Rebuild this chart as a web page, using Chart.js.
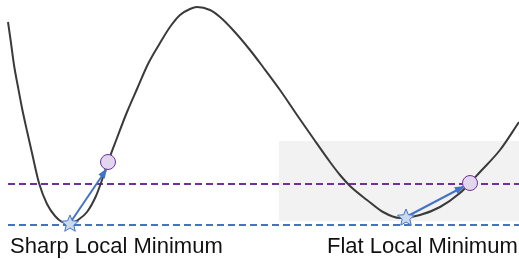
<!DOCTYPE html>
<html>
<head>
<meta charset="utf-8">
<style>
  html, body { margin: 0; padding: 0; background: #fff; }
  #wrap { width: 519px; height: 259px; }
</style>
<script src="https://cdn.jsdelivr.net/npm/chart.js@4/dist/chart.umd.min.js"></script>
</head>
<body>
<div id="wrap"><canvas id="chart" width="519" height="259"></canvas></div>
<script>
// loss curve (x right, y down)
const curveX = [8, 11, 14, 18, 22, 27, 32, 39, 47, 55, 62, 70, 78, 87, 96, 102, 108, 117, 127, 137, 148, 160, 170, 180, 190, 197, 210, 220, 233, 250, 263, 280, 297, 313, 330, 340, 350, 367, 383, 400, 420, 440, 460, 470, 480, 500, 519];
const curveY = [22, 43, 65, 87, 108, 131, 153, 183, 204, 216, 222, 224, 220, 212, 196, 180, 162, 138, 112, 89, 64, 43, 27, 15, 9, 7, 10, 17, 30, 50, 67, 90, 115, 138, 162, 175, 186, 200, 212, 218, 215, 207, 193, 183, 172, 150, 122];

// horizontal reference levels
const levelStartX = 8;
const levelEndX = 519;
const perturbedLevel = 184;
const minimumLevel = 225;

// shaded flat region
const regionX = [279, 519];
const regionTop = 141;
const regionBottom = 221;

// minima (stars) and perturbed points (circles)
const minimaX = [70, 406];
const minimaY = [223, 217];
const probeX = [108, 470];
const probeY = [162, 183];
const arrowTipX = [106, 463];
const arrowTipY = [170, 187];

const captions = ['Sharp Local Minimum', 'Flat Local Minimum'];
const captionX = [10, 327];
const captionY = 253;

const toPoints = (xs, ys) => xs.map((x, i) => ({ x: x, y: ys[i] }));

function makeStar(outer, inner, fill, stroke) {
  const size = Math.ceil(outer * 2 + 4);
  const c = document.createElement('canvas');
  c.width = size;
  c.height = size;
  const g = c.getContext('2d');
  const cx = size / 2, cy = size / 2 + 1;
  g.beginPath();
  for (let i = 0; i < 10; i++) {
    const r = i % 2 === 0 ? outer : inner;
    const a = -Math.PI / 2 + i * Math.PI / 5;
    const px = cx + r * Math.cos(a);
    const py = cy + r * Math.sin(a);
    if (i === 0) g.moveTo(px, py); else g.lineTo(px, py);
  }
  g.closePath();
  g.fillStyle = fill;
  g.fill();
  g.lineWidth = 1;
  g.strokeStyle = stroke;
  g.stroke();
  return c;
}

const starImg = makeStar(9, 4, '#c9daf0', '#4472c4');

// arrowheads at the end of datasets flagged arrow: true
const arrowPlugin = {
  id: 'arrows',
  afterDatasetsDraw(chart) {
    const ctx = chart.ctx;
    chart.data.datasets.forEach((ds, i) => {
      if (!ds.arrow) return;
      const pts = chart.getDatasetMeta(i).data;
      const a = pts[pts.length - 2], b = pts[pts.length - 1];
      const ang = Math.atan2(b.y - a.y, b.x - a.x);
      const len = 8, half = 3.8;
      ctx.save();
      ctx.fillStyle = ds.borderColor;
      ctx.beginPath();
      ctx.moveTo(b.x + 2 * Math.cos(ang), b.y + 2 * Math.sin(ang));
      ctx.lineTo(b.x - len * Math.cos(ang) + half * Math.sin(ang), b.y - len * Math.sin(ang) - half * Math.cos(ang));
      ctx.lineTo(b.x - len * Math.cos(ang) - half * Math.sin(ang), b.y - len * Math.sin(ang) + half * Math.cos(ang));
      ctx.closePath();
      ctx.fill();
      ctx.restore();
    });
  }
};

// captions under each minimum
const captionPlugin = {
  id: 'captions',
  afterDraw(chart) {
    const ctx = chart.ctx;
    ctx.save();
    ctx.font = '22px "Liberation Sans", Arial, sans-serif';
    ctx.fillStyle = '#111';
    ctx.textBaseline = 'alphabetic';
    ctx.textAlign = 'left';
    captions.forEach((t, i) => ctx.fillText(t, captionX[i], captionY));
    ctx.restore();
  }
};

new Chart(document.getElementById('chart'), {
  type: 'line',
  data: {
    datasets: [
      {
        label: 'minima',
        data: toPoints(minimaX, minimaY),
        showLine: false,
        pointStyle: starImg,
        pointRadius: 9,
        order: 0
      },
      {
        label: 'probes',
        data: toPoints(probeX, probeY),
        showLine: false,
        pointStyle: 'circle',
        pointRadius: 7.5,
        pointBackgroundColor: '#e2d6ee',
        pointBorderColor: '#7030a0',
        pointBorderWidth: 1,
        order: 1
      },
      {
        label: 'arrow sharp',
        data: [{ x: minimaX[0], y: minimaY[0] }, { x: arrowTipX[0], y: arrowTipY[0] }],
        borderColor: '#4472c4',
        borderWidth: 2,
        pointRadius: 0,
        arrow: true,
        order: 2
      },
      {
        label: 'arrow flat',
        data: [{ x: minimaX[1], y: minimaY[1] }, { x: arrowTipX[1], y: arrowTipY[1] }],
        borderColor: '#4472c4',
        borderWidth: 2,
        pointRadius: 0,
        arrow: true,
        order: 3
      },
      {
        label: 'loss',
        data: toPoints(curveX, curveY),
        borderColor: '#3a3a3a',
        borderWidth: 2,
        pointRadius: 0,
        cubicInterpolationMode: 'monotone',
        order: 4
      },
      {
        label: 'perturbed level',
        data: [{ x: levelStartX, y: perturbedLevel }, { x: levelEndX, y: perturbedLevel }],
        borderColor: '#7030a0',
        borderWidth: 2,
        borderDash: [7, 4],
        pointRadius: 0,
        order: 5
      },
      {
        label: 'minimum level',
        data: [{ x: levelStartX, y: minimumLevel }, { x: levelEndX, y: minimumLevel }],
        borderColor: '#4472c4',
        borderWidth: 2,
        borderDash: [7, 4],
        pointRadius: 0,
        order: 6
      },
      {
        label: 'flat region',
        data: toPoints(regionX, [regionTop, regionTop]),
        borderWidth: 0,
        borderColor: 'rgba(0,0,0,0)',
        backgroundColor: '#f2f2f2',
        fill: { value: regionBottom },
        pointRadius: 0,
        order: 7
      }
    ]
  },
  options: {
    responsive: false,
    devicePixelRatio: 1,
    animation: false,
    layout: { padding: 0, autoPadding: false },
    clip: false,
    plugins: {
      legend: { display: false },
      tooltip: { enabled: false }
    },
    scales: {
      x: { type: 'linear', min: 0, max: 519, display: false },
      y: { type: 'linear', min: 0, max: 259, reverse: true, display: false }
    }
  },
  plugins: [arrowPlugin, captionPlugin]
});
</script>
</body>
</html>
